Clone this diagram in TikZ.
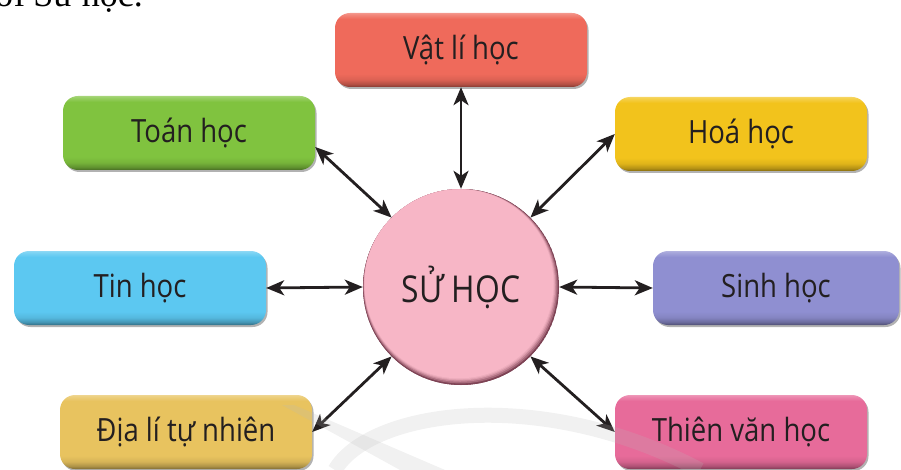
\documentclass[tikz,border=0pt]{standalone}
\usepackage{fontspec}
\setmainfont{Open Sans}[FakeStretch=0.86]
\newfontfamily\serifhead{Liberation Serif}
\usetikzlibrary{arrows.meta,shadows,calc}

\definecolor{txt}{HTML}{231F20}
\definecolor{cvatli}{HTML}{EF6A5B}
\definecolor{ctoan}{HTML}{80C33F}
\definecolor{choa}{HTML}{F2C31C}
\definecolor{ctin}{HTML}{5CC8F1}
\definecolor{csinh}{HTML}{8F8FD1}
\definecolor{cdia}{HTML}{E8C35F}
\definecolor{cthien}{HTML}{E76B9A}
\definecolor{csu}{HTML}{F7B6C6}
\definecolor{csurim}{HTML}{7E4355}
\colorlet{boxbase}{gray}

% flat face with a light top edge and a dark bevel along the bottom
\pgfdeclareverticalshading[boxbase]{bevel}{100bp}{%
  color(0bp)=(boxbase!55!black); color(25bp)=(boxbase!55!black);
  color(27bp)=(boxbase!75!black); color(30bp)=(boxbase!92!black);
  color(34bp)=(boxbase); color(71bp)=(boxbase);
  color(74bp)=(boxbase!80!white); color(75bp)=(boxbase!70!white);
  color(100bp)=(boxbase!70!white)}

\tikzset{
  subj/.style={rounded corners=15pt, minimum width=252pt, minimum height=74pt, inner sep=0pt,
    text=txt, font=\fontsize{32}{38}\selectfont,
    /utils/exec={\colorlet{boxbase}{#1}}, shading=bevel,
    drop shadow={shadow xshift=1.5pt, shadow yshift=-2pt, opacity=0.3, fill=black}},
  link/.style={line width=2.8pt, draw=txt,
    {Stealth[length=18pt,width=15pt,inset=5pt]}-{Stealth[length=18pt,width=15pt,inset=5pt]}},
  band/.style={gray!55, opacity=0.2},
}

\begin{document}
\begin{tikzpicture}[x=1pt, y=-1pt]
\useasboundingbox (0,0) rectangle (901,470);

% caption line running in from the text above
\node[anchor=base east, inner sep=0pt, text=black,
      font=\serifhead\fontsize{36}{40}\selectfont] (cap) at (143,7) {ới Sử học.};

% central circle with a darker rim on its lower right
\node[circle, minimum size=196pt, inner sep=0pt, fill=csurim, text=txt,
      font=\fontsize{37}{42}\selectfont,
      path picture={
        \foreach \d/\c in {0/0, 1.2/35, 2.4/60, 3.4/80, 4.2/92, 5/100}{
          \pgfmathsetmacro\rr{98-0.7*\d}
          \fill[csu!\c!csurim] ($(path picture bounding box.center)+(-0.4*\d pt, 0.65*\d pt)$)
            circle[radius=\rr pt];
        }
      }] (su) at (461,287) {SỬ HỌC};

% surrounding subjects
\node[subj=cvatli] (vatli) at (461,50)  {Vật lí học};
\node[subj=ctoan]  (toan)  at (189,133) {Toán học};
\node[subj=choa]   (hoa)   at (741,134) {Hoá học};
\node[subj=ctin]   (tin)   at (140,288) {Tin học};
\node[subj=csinh, minimum width=246pt] (sinh) at (776,288) {Sinh học};
\node[subj=cdia]   (dia)   at (186,432) {Địa lí tự nhiên};
\node[subj=cthien] (thien) at (741,432) {Thiên văn học};

% two-way links
\draw[link] (vatli.south) -- (su.north);
\draw[link] ([yshift=-14pt]toan.east) -- (su.135);
\draw[link] (hoa.west) -- (su.45);
\draw[link] (tin.east) -- (su.west);
\draw[link] (su.east) -- (sinh.west);
\draw[link] (dia.east) -- (su.225);
\draw[link] (thien.west) -- (su.315);

% faint swoosh across the lower part
\draw[band, line width=15pt] (335,470) .. controls (370,410) and (540,385) .. (700,470);
\fill[band] (282,405) -- (294,405) -- (445,470) -- (400,470) -- cycle;
\end{tikzpicture}
\end{document}
